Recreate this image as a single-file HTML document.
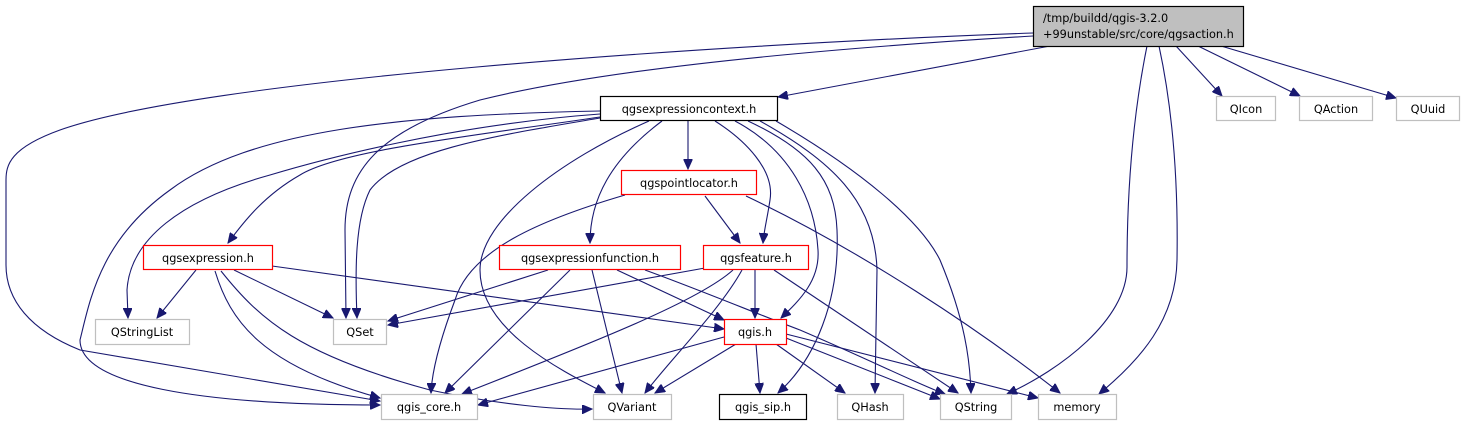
<!DOCTYPE html>
<html><head><meta charset="utf-8"><style>html,body{margin:0;padding:0;background:#fff}svg{display:block}text{font-family:"DejaVu Sans","Liberation Sans",sans-serif;font-size:11.3px;fill:#000}</style></head>
<body>
<svg width="1465" height="425" viewBox="0 0 1465 425" xmlns="http://www.w3.org/2000/svg">
<defs><marker id="a" markerUnits="userSpaceOnUse" markerWidth="11" markerHeight="9" refX="10" refY="4.5" orient="auto"><path d="M0,0 L10,4.5 L0,9 z" fill="#191970" stroke="#191970"/></marker></defs>
<g fill="none" stroke="#191970" stroke-width="1.1" marker-end="url(#a)">
<path d="M1033,33 C700,45 200,80 60,130 C10,148 6,165 6,180 L6,265 C6,300 30,330 80,350 L380,401"/>
<path d="M1033,36 C800,50 600,70 480,100 C380,130 345,170 345,230 L346,318"/>
<path d="M1050,46 L778,97"/>
<path d="M1176,46 L1222,96"/>
<path d="M1198,46 L1300,96"/>
<path d="M1221,46 L1396,98"/>
<path d="M1147,46 C1132,120 1127,200 1127,267 C1127,320 1060,370 1007,394"/>
<path d="M1159,46 C1175,120 1178,200 1177,260 C1176,320 1140,360 1099,394"/>
<path d="M600,111 C400,115 250,130 170,190 C100,240 90,300 80,340 C80,385 200,405 380,405"/>
<path d="M600,114 C450,125 320,160 270,175 C180,200 130,240 127,290 L128,318"/>
<path d="M600,117 C480,135 340,150 300,175 C265,195 245,220 228,243"/>
<path d="M600,118 C500,135 400,150 370,190 C355,220 355,270 357,318"/>
<path d="M649,121 C560,160 480,220 480,270 C480,330 560,370 605,393"/>
<path d="M662,121 C610,160 590,200 590,243"/>
<path d="M688,121 L688,169"/>
<path d="M715,121 C745,140 775,170 770,200 C767,220 764,230 763,243"/>
<path d="M735,121 C790,150 815,200 818,250 C820,280 800,300 781,318"/>
<path d="M748,121 C810,150 835,180 837,230 C840,300 815,360 778,393"/>
<path d="M760,121 C830,160 875,200 877,270 L875,393"/>
<path d="M776,121 C860,170 920,220 940,260 C965,320 970,360 971,393"/>
<path d="M625,195 C540,220 470,250 455,300 C440,340 432,370 431,393"/>
<path d="M705,196 L740,243"/>
<path d="M746,196 C860,250 980,330 1060,393"/>
<path d="M196,270 L157,318"/>
<path d="M234,270 L333,318"/>
<path d="M272,266 L724,329"/>
<path d="M215,271 C230,320 260,365 380,398"/>
<path d="M221,271 C260,320 300,355 430,390 C500,405 560,410 592,409"/>
<path d="M548,270 L388,321"/>
<path d="M570,270 L445,393"/>
<path d="M592,270 L622,393"/>
<path d="M617,270 L724,320"/>
<path d="M645,270 C700,290 760,315 800,330 C870,360 920,385 945,394"/>
<path d="M705,268 L388,325"/>
<path d="M733,270 C700,300 600,340 462,394"/>
<path d="M742,270 C720,310 670,360 645,393"/>
<path d="M755,270 L755,318"/>
<path d="M774,270 L958,393"/>
<path d="M724,337 L478,405"/>
<path d="M736,344 L655,393"/>
<path d="M756,344 L760,393"/>
<path d="M776,344 L845,393"/>
<path d="M786,338 L940,399"/>
<path d="M786,334 L1038,398"/>
</g>
<g stroke-width="1.2">
<rect x="1033.5" y="6.5" width="210" height="40" fill="#bfbfbf" stroke="#000"/>
<rect x="600.5" y="96.5" width="177" height="24" fill="#fff" stroke="#000"/>
<rect x="1216.5" y="96.5" width="59" height="24" fill="#fff" stroke="#bfbfbf"/>
<rect x="1299.5" y="96.5" width="73" height="24" fill="#fff" stroke="#bfbfbf"/>
<rect x="1396.5" y="96.5" width="63" height="24" fill="#fff" stroke="#bfbfbf"/>
<rect x="621.5" y="170.5" width="135" height="24" fill="#fff" stroke="#f00"/>
<rect x="143.5" y="245.5" width="129" height="24" fill="#fff" stroke="#f00"/>
<rect x="499.5" y="245.5" width="181" height="24" fill="#fff" stroke="#f00"/>
<rect x="703.5" y="245.5" width="105" height="24" fill="#fff" stroke="#f00"/>
<rect x="95.5" y="319.5" width="94" height="25" fill="#fff" stroke="#bfbfbf"/>
<rect x="333.5" y="319.5" width="53" height="25" fill="#fff" stroke="#bfbfbf"/>
<rect x="724.5" y="319.5" width="62" height="25" fill="#fff" stroke="#f00"/>
<rect x="381.5" y="394.5" width="96" height="25" fill="#fff" stroke="#bfbfbf"/>
<rect x="593.5" y="394.5" width="78" height="25" fill="#fff" stroke="#bfbfbf"/>
<rect x="719.5" y="394.5" width="87" height="25" fill="#fff" stroke="#000"/>
<rect x="837.5" y="394.5" width="66" height="25" fill="#fff" stroke="#bfbfbf"/>
<rect x="940.5" y="394.5" width="71" height="25" fill="#fff" stroke="#bfbfbf"/>
<rect x="1038.5" y="394.5" width="78" height="25" fill="#fff" stroke="#bfbfbf"/>
</g>
<g>
<text x="1043" y="22">/tmp/buildd/qgis-3.2.0</text>
<text x="1043" y="38">+99unstable/src/core/qgsaction.h</text>
</g>
<g text-anchor="middle">
<text x="689" y="113">qgsexpressioncontext.h</text>
<text x="1246" y="113">QIcon</text>
<text x="1336" y="113">QAction</text>
<text x="1428" y="113">QUuid</text>
<text x="689" y="187">qgspointlocator.h</text>
<text x="208" y="262">qgsexpression.h</text>
<text x="590" y="262">qgsexpressionfunction.h</text>
<text x="756" y="262">qgsfeature.h</text>
<text x="142" y="336">QStringList</text>
<text x="360" y="336">QSet</text>
<text x="755" y="336">qgis.h</text>
<text x="429" y="411">qgis_core.h</text>
<text x="632" y="411">QVariant</text>
<text x="763" y="411">qgis_sip.h</text>
<text x="870" y="411">QHash</text>
<text x="976" y="411">QString</text>
<text x="1077" y="411">memory</text>
</g>
</svg>
</body></html>
